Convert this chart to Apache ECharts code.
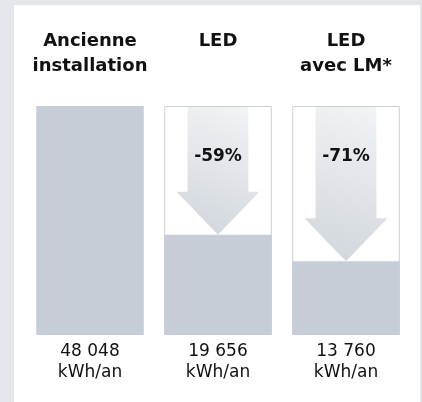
<!DOCTYPE html>
<html>
<head>
<meta charset="utf-8">
<script src="https://cdn.jsdelivr.net/npm/echarts@6/dist/echarts.min.js"></script>
<style>
  html, body { margin: 0; padding: 0; }
  #chart { width: 422px; height: 402px; }
</style>
</head>
<body>
<div id="chart"></div>
<script>
// data
var categories = ['Ancienne\ninstallation', 'LED', 'LED\navec LM*']
var consumption = [48048, 19656, 13760]
var unit = 'kWh/an'

// the bars start a little below zero in the original graphic
var axisMin = -2500
var barColor = '#c6cdd6'

function fmt(v) {
  return String(v).replace(/\B(?=(\d{3})+(?!\d))/g, ' ')
}

var chartDom = document.getElementById('chart')
var chart = echarts.init(chartDom, null, { renderer: 'canvas' })

var option = {
  animation: false,
  backgroundColor: '#e3e6ea',
  graphic: [
    {
      type: 'rect',
      z: -10,
      shape: { x: 14, y: 5, width: 406, height: 400 },
      style: { fill: '#ffffff' }
    }
  ],
  grid: { left: 26, right: 12, top: 106, bottom: 67 },
  xAxis: [
    {
      type: 'category',
      position: 'top',
      data: categories,
      axisLine: { show: false },
      axisTick: { show: false },
      axisLabel: {
        interval: 0,
        margin: 77,
        verticalAlign: 'top',
        fontFamily: 'DejaVu Sans',
        fontWeight: 'bold',
        fontSize: 18,
        lineHeight: 25,
        color: '#111'
      }
    },
    {
      type: 'category',
      position: 'bottom',
      data: categories,
      axisLine: { show: false },
      axisTick: { show: false },
      axisLabel: {
        interval: 0,
        margin: 6,
        verticalAlign: 'top',
        fontFamily: 'DejaVu Sans',
        fontSize: 17,
        lineHeight: 21,
        color: '#111',
        formatter: function (val, idx) {
          return fmt(consumption[idx]) + '\n' + unit
        }
      }
    }
  ],
  yAxis: {
    type: 'value',
    min: axisMin,
    max: consumption[0],
    show: false
  },
  series: [
    {
      type: 'custom',
      xAxisIndex: 0,
      data: consumption.map(function (v, i) { return [i, v] }),
      renderItem: function (params, api) {
        var i = api.value(0)
        var v = api.value(1)
        var ref = consumption[0]
        var bw = api.size([1, 0])[0] * 0.84
        var c = api.coord([i, v])
        var base = api.coord([i, axisMin])
        var top = api.coord([i, ref])
        var cx = c[0]
        var x0 = cx - bw / 2
        var children = []
        if (i > 0) {
          children.push({
            type: 'rect',
            shape: { x: x0 + 0.5, y: top[1] + 0.5, width: bw - 1, height: base[1] - top[1] - 1 },
            style: { fill: '#ffffff', stroke: '#c9d0d8', lineWidth: 1 }
          })
          var sh = bw * 0.283
          var hh = bw * 0.385
          var tip = c[1]
          var headTop = tip - 43
          var t = top[1] + 1
          children.push({
            type: 'polygon',
            shape: {
              points: [
                [cx - sh, t], [cx + sh, t], [cx + sh, headTop], [cx + hh, headTop],
                [cx, tip], [cx - hh, headTop], [cx - sh, headTop]
              ]
            },
            style: {
              fill: new echarts.graphic.LinearGradient(0.8, 0, 0.2, 1, [
                { offset: 0, color: '#f1f3f5' },
                { offset: 1, color: '#d1d6dc' }
              ])
            }
          })
          var pct = Math.round((1 - v / ref) * 100)
          children.push({
            type: 'text',
            style: {
              text: '-' + pct + '%',
              x: cx,
              y: top[1] + 51,
              align: 'center',
              verticalAlign: 'middle',
              font: 'bold 17px "DejaVu Sans"',
              fill: '#111'
            }
          })
        }
        children.push({
          type: 'rect',
          shape: { x: x0, y: c[1], width: bw, height: base[1] - c[1] },
          style: { fill: barColor }
        })
        return { type: 'group', children: children }
      }
    }
  ]
}

option && chart.setOption(option)
</script>
</body>
</html>
